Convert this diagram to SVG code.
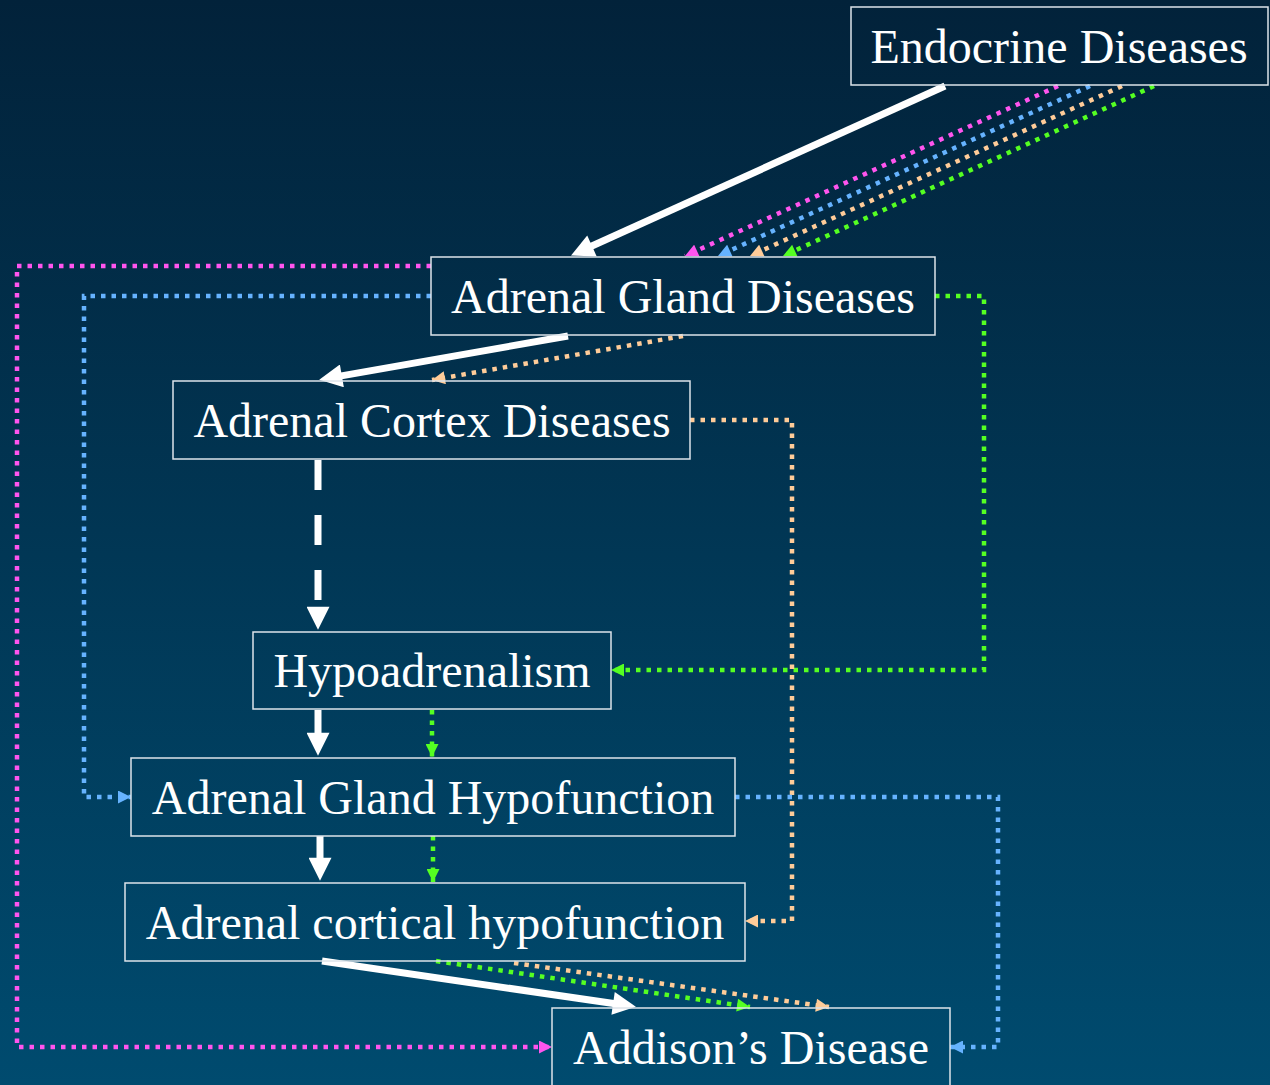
<svg xmlns="http://www.w3.org/2000/svg" width="1270" height="1085" viewBox="0 0 1270 1085">
<defs>
<linearGradient id="bg" x1="0" y1="0" x2="0" y2="1">
<stop offset="0" stop-color="#02223a"/>
<stop offset="1" stop-color="#004b6f"/>
</linearGradient>
<marker id="aw" viewBox="0 0 10 10" refX="4" refY="5" markerUnits="userSpaceOnUse" markerWidth="25" markerHeight="23" orient="auto"><path d="M0,0 L10,5 L0,10 Z" fill="#ffffff"/></marker>
<marker id="am" viewBox="0 0 10 10" refX="10" refY="5" markerUnits="userSpaceOnUse" markerWidth="15" markerHeight="13" orient="auto"><path d="M0,0 L10,5 L0,10 Z" fill="#ff55ee"/></marker>
<marker id="ab" viewBox="0 0 10 10" refX="10" refY="5" markerUnits="userSpaceOnUse" markerWidth="15" markerHeight="13" orient="auto"><path d="M0,0 L10,5 L0,10 Z" fill="#66b3ff"/></marker>
<marker id="ao" viewBox="0 0 10 10" refX="10" refY="5" markerUnits="userSpaceOnUse" markerWidth="15" markerHeight="13" orient="auto"><path d="M0,0 L10,5 L0,10 Z" fill="#ffcc99"/></marker>
<marker id="ag" viewBox="0 0 10 10" refX="10" refY="5" markerUnits="userSpaceOnUse" markerWidth="15" markerHeight="13" orient="auto"><path d="M0,0 L10,5 L0,10 Z" fill="#55ff22"/></marker>
</defs>
<style>
.box{fill:none;stroke:#dde4ea;stroke-width:1.5}
.lbl{font-family:"Liberation Serif","Times New Roman",serif;font-size:48px;fill:#ffffff;text-anchor:middle}
.w{stroke:#ffffff;stroke-width:7;fill:none;marker-end:url(#aw)}
.wd{stroke:#ffffff;stroke-width:7;fill:none;stroke-dasharray:30 25;marker-end:url(#aw)}
.d{fill:none;stroke-width:4.5;stroke-dasharray:4.5 6}
.m{stroke:#ff55ee;marker-end:url(#am)}
.b{stroke:#66b3ff;marker-end:url(#ab)}
.o{stroke:#ffcc99;marker-end:url(#ao)}
.g{stroke:#55ff22;marker-end:url(#ag)}
</style>
<rect x="0" y="0" width="1270" height="1085" fill="url(#bg)"/>
<g id="connectors">
<path class="w" d="M945,86 L583.6,249.8"/>
<path class="d m" d="M1058,86 L685,256"/>
<path class="d b" d="M1090,86 L718,256"/>
<path class="d o" d="M1122,86 L750,256"/>
<path class="d g" d="M1154,86 L783,256"/>
<path class="w" d="M568,336 L332.8,377.4"/>
<path class="d o" d="M683,336 L432,380"/>
<path class="wd" d="M318,460 L318,616"/>
<path class="w" d="M318,710 L318,742"/>
<path class="d g" d="M432,710 L432,757"/>
<path class="w" d="M320,836 L320,867"/>
<path class="d g" d="M433,836 L433,882"/>
<path class="w" d="M322,961 L622.2,1004.8"/>
<path class="d g" d="M436,961 L750,1007"/>
<path class="d o" d="M514,963 L829,1007"/>
<path class="d m" d="M431,266 L17,266 L17,1047 L552,1047"/>
<path class="d b" d="M431,296 L84,296 L84,797 L131,797"/>
<path class="d g" d="M935,296 L984,296 L984,670 L611,670"/>
<path class="d o" d="M690,420 L792,420 L792,921 L745,921"/>
<path class="d b" d="M735,797 L998,797 L998,1047 L950,1047"/>
</g>
<g id="n-endocrine"><rect class="box" x="851" y="7" width="417" height="78"/><text class="lbl" x="1059" y="63">Endocrine Diseases</text></g>
<g id="n-adrenal-gland-diseases"><rect class="box" x="431" y="257" width="504" height="78"/><text class="lbl" x="683" y="313">Adrenal Gland Diseases</text></g>
<g id="n-adrenal-cortex-diseases"><rect class="box" x="173" y="381" width="517" height="78"/><text class="lbl" x="432" y="437">Adrenal Cortex Diseases</text></g>
<g id="n-hypoadrenalism"><rect class="box" x="253" y="632" width="358" height="77"/><text class="lbl" x="432" y="687">Hypoadrenalism</text></g>
<g id="n-adrenal-gland-hypofunction"><rect class="box" x="131" y="758" width="604" height="78"/><text class="lbl" x="433" y="814">Adrenal Gland Hypofunction</text></g>
<g id="n-adrenal-cortical-hypofunction"><rect class="box" x="125" y="883" width="620" height="78"/><text class="lbl" x="435" y="939">Adrenal cortical hypofunction</text></g>
<g id="n-addisons"><rect class="box" x="552" y="1008" width="398" height="80"/><text class="lbl" x="751" y="1064">Addison’s Disease</text></g>
</svg>
